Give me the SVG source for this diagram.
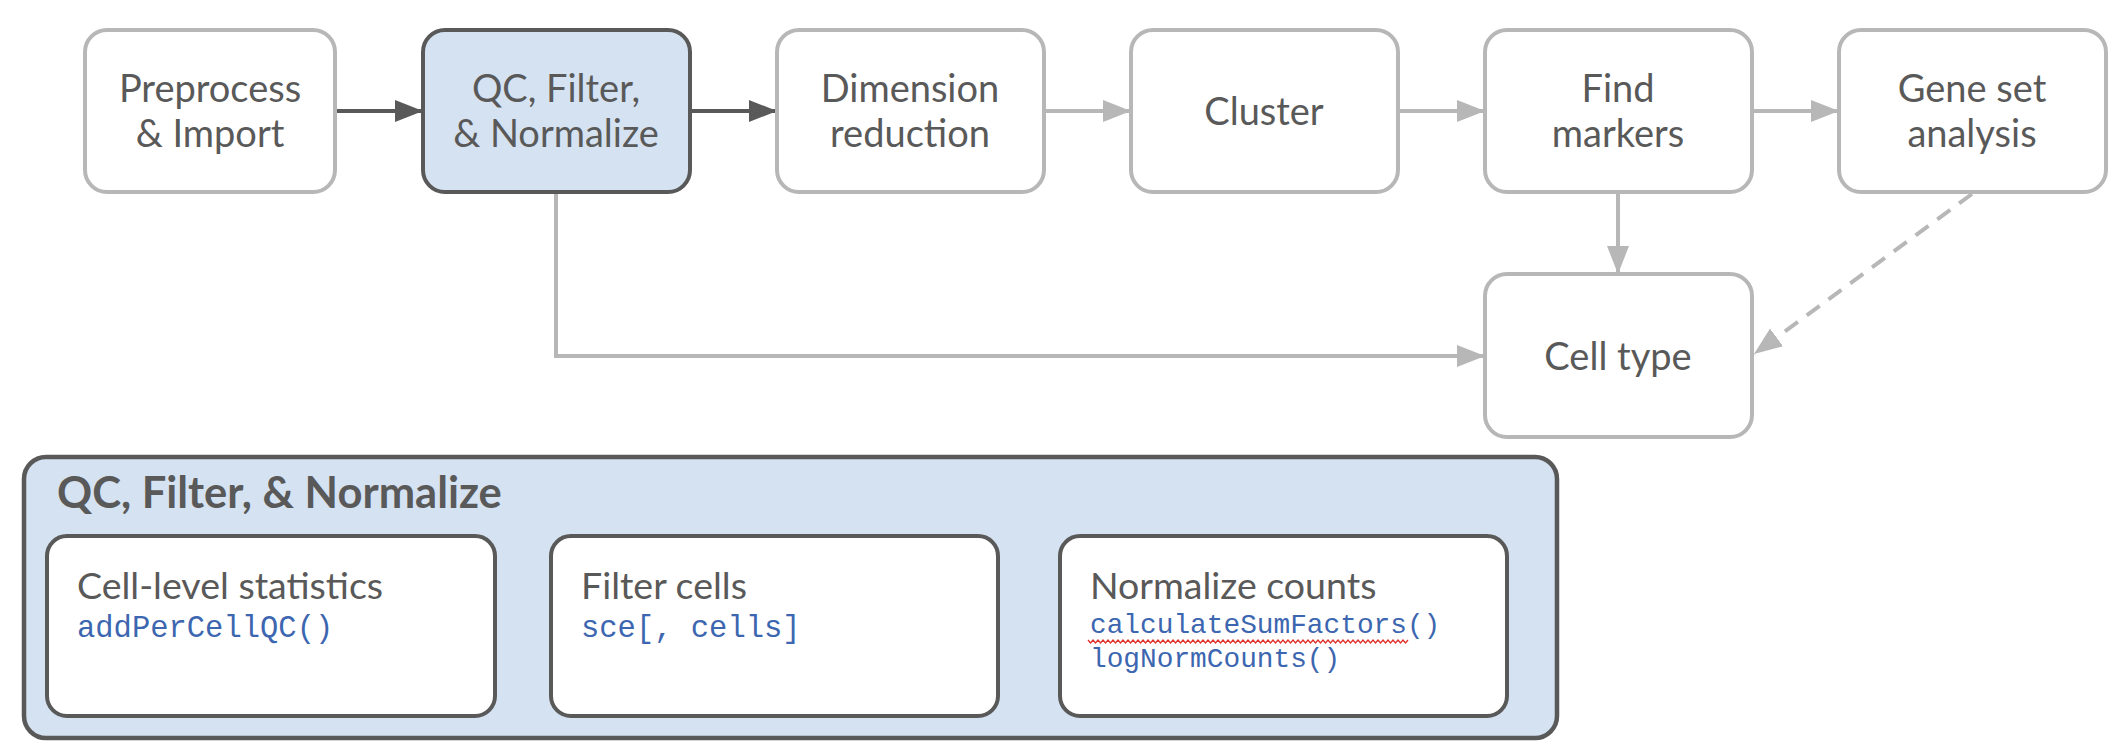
<svg xmlns="http://www.w3.org/2000/svg" width="2120" height="755" viewBox="0 0 2120 755">
<style>
.box{fill:#ffffff;stroke:#b7b7b7;stroke-width:4}
.boxsel{fill:#d5e2f1;stroke:#595959;stroke-width:4}
.panel{fill:#d5e2f1;stroke:#595959;stroke-width:4.5}
.inner{fill:#ffffff;stroke:#595959;stroke-width:4}
.lbl{font-family:Lato,"Open Sans",sans-serif;font-size:38px;fill:#595959;text-anchor:middle}
.hdr{font-family:Lato,"Open Sans",sans-serif;font-size:37.5px;fill:#595959}
.ttl{font-family:Lato,"Open Sans",sans-serif;font-size:43.5px;font-weight:bold;fill:#595959}
.code{font-family:"Liberation Mono","DejaVu Sans Mono",monospace;font-size:30.5px;fill:#3d66b0}
.code2{font-family:"Liberation Mono","DejaVu Sans Mono",monospace;font-size:27.8px;fill:#3d66b0}
.cd{fill:none;stroke:#595959;stroke-width:4}
.cg{fill:none;stroke:#b7b7b7;stroke-width:4}
</style>
<defs>
<marker id="ad" markerUnits="userSpaceOnUse" markerWidth="30" markerHeight="24" refX="28" refY="11" orient="auto"><path d="M0,0 L28,11 L0,22 z" fill="#595959"/></marker>
<marker id="ag" markerUnits="userSpaceOnUse" markerWidth="30" markerHeight="24" refX="28" refY="11" orient="auto"><path d="M0,0 L28,11 L0,22 z" fill="#b7b7b7"/></marker>
</defs>
<g id="connectors">
<path class="cd" d="M337,111 L423,111" marker-end="url(#ad)"/>
<path class="cd" d="M692,111 L777,111" marker-end="url(#ad)"/>
<path class="cg" d="M1046,111 L1131,111" marker-end="url(#ag)"/>
<path class="cg" d="M1400,111 L1485,111" marker-end="url(#ag)"/>
<path class="cg" d="M1754,111 L1839,111" marker-end="url(#ag)"/>
<path class="cg" d="M1618,194 L1618,274" marker-end="url(#ag)"/>
<path class="cg" d="M1972,194 L1754,354" stroke-dasharray="16 11" marker-end="url(#ag)"/>
<path class="cg" d="M556,194 L556,356 L1485,356" marker-end="url(#ag)"/>
<path class="cd" d="M497,626 L551,626" marker-end="url(#ad)"/>
<path class="cd" d="M1000,626 L1060,626" marker-end="url(#ad)"/>
</g>
<g id="preprocess"><rect class="box" x="85" y="30" width="250" height="162" rx="22"/><text class="lbl" x="210" y="102">Preprocess</text><text class="lbl" x="210" y="147">&amp; Import</text></g>
<g id="qc"><rect class="boxsel" x="423" y="30" width="267" height="162" rx="22"/><text class="lbl" x="556" y="102">QC, Filter,</text><text class="lbl" x="556" y="147">&amp; Normalize</text></g>
<g id="dimred"><rect class="box" x="777" y="30" width="267" height="162" rx="22"/><text class="lbl" x="910" y="102">Dimension</text><text class="lbl" x="910" y="147">reduction</text></g>
<g id="cluster"><rect class="box" x="1131" y="30" width="267" height="162" rx="22"/><text class="lbl" x="1264" y="125">Cluster</text></g>
<g id="markers"><rect class="box" x="1485" y="30" width="267" height="162" rx="22"/><text class="lbl" x="1618" y="102">Find</text><text class="lbl" x="1618" y="147">markers</text></g>
<g id="geneset"><rect class="box" x="1839" y="30" width="267" height="162" rx="22"/><text class="lbl" x="1972" y="102">Gene set</text><text class="lbl" x="1972" y="147">analysis</text></g>
<g id="celltype"><rect class="box" x="1485" y="274" width="267" height="163" rx="22"/><text class="lbl" x="1618" y="370">Cell type</text></g>
<g id="panel">
<rect class="panel" x="24" y="457" width="1533" height="281" rx="22"/>
<text class="ttl" x="57" y="508">QC, Filter, &amp; Normalize</text>
</g>
<g id="cellstats"><rect class="inner" x="47" y="536" width="448" height="180" rx="20"/><text class="hdr" x="77" y="599">Cell-level statistics</text><text class="code" x="77" y="637">addPerCellQC()</text></g>
<g id="filtercells"><rect class="inner" x="551" y="536" width="447" height="180" rx="20"/><text class="hdr" x="581" y="599">Filter cells</text><text class="code" x="581" y="637">sce[, cells]</text></g>
<g id="normcounts"><rect class="inner" x="1060" y="536" width="447" height="180" rx="20"/><text class="hdr" x="1090" y="599">Normalize counts</text><text class="code2" x="1090" y="633">calculateSumFactors()</text><text class="code2" x="1090" y="667">logNormCounts()</text>
<path d="M1088,640 l2.5,3 l2.5,-3 l2.5,3 l2.5,-3 l2.5,3 l2.5,-3 l2.5,3 l2.5,-3 l2.5,3 l2.5,-3 l2.5,3 l2.5,-3 l2.5,3 l2.5,-3 l2.5,3 l2.5,-3 l2.5,3 l2.5,-3 l2.5,3 l2.5,-3 l2.5,3 l2.5,-3 l2.5,3 l2.5,-3 l2.5,3 l2.5,-3 l2.5,3 l2.5,-3 l2.5,3 l2.5,-3 l2.5,3 l2.5,-3 l2.5,3 l2.5,-3 l2.5,3 l2.5,-3 l2.5,3 l2.5,-3 l2.5,3 l2.5,-3 l2.5,3 l2.5,-3 l2.5,3 l2.5,-3 l2.5,3 l2.5,-3 l2.5,3 l2.5,-3 l2.5,3 l2.5,-3 l2.5,3 l2.5,-3 l2.5,3 l2.5,-3 l2.5,3 l2.5,-3 l2.5,3 l2.5,-3 l2.5,3 l2.5,-3 l2.5,3 l2.5,-3 l2.5,3 l2.5,-3 l2.5,3 l2.5,-3 l2.5,3 l2.5,-3 l2.5,3 l2.5,-3 l2.5,3 l2.5,-3 l2.5,3 l2.5,-3 l2.5,3 l2.5,-3 l2.5,3 l2.5,-3 l2.5,3 l2.5,-3 l2.5,3 l2.5,-3 l2.5,3 l2.5,-3 l2.5,3 l2.5,-3 l2.5,3 l2.5,-3 l2.5,3 l2.5,-3 l2.5,3 l2.5,-3 l2.5,3 l2.5,-3 l2.5,3 l2.5,-3 l2.5,3 l2.5,-3 l2.5,3 l2.5,-3 l2.5,3 l2.5,-3 l2.5,3 l2.5,-3 l2.5,3 l2.5,-3 l2.5,3 l2.5,-3 l2.5,3 l2.5,-3 l2.5,3 l2.5,-3 l2.5,3 l2.5,-3 l2.5,3 l2.5,-3 l2.5,3 l2.5,-3 l2.5,3 l2.5,-3 l2.5,3 l2.5,-3 l2.5,3 l2.5,-3 l2.5,3 l2.5,-3 l2.5,3 l2.5,-3" fill="none" stroke="#e0302a" stroke-width="1.3"/>
</g>
</svg>
